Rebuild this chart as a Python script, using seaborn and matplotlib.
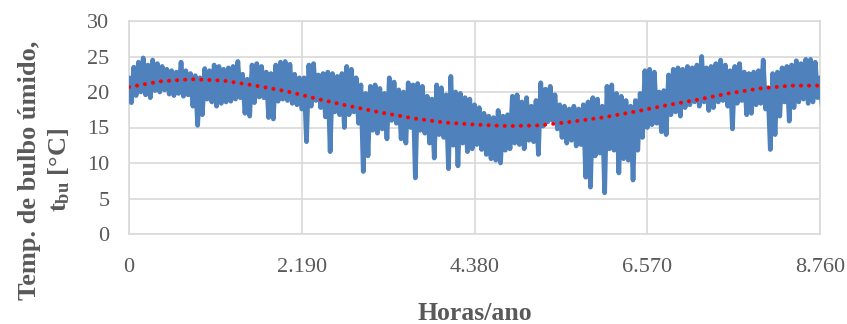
import numpy as np
import pandas as pd
import matplotlib
matplotlib.use("Agg")
import matplotlib.pyplot as plt
import seaborn as sns

# ---- data ----
# hourly record shown as an envelope: max / min wet-bulb temperature per 60 h block
horas = list(range(0, 8761, 60))
tbu_max = [22.0, 23.5, 24.2, 24.8, 23.8, 24.5, 24.0, 23.6, 23.2, 23.0,
           22.8, 24.2, 23.0, 22.6, 22.3, 22.0, 23.3, 23.0, 23.8, 23.6,
           23.2, 23.4, 23.6, 24.3, 22.5, 21.8, 23.8, 24.0, 23.6, 22.8,
           22.6, 23.8, 24.2, 24.3, 23.9, 22.5, 22.0, 22.0, 23.8, 24.0,
           22.4, 22.6, 22.8, 22.6, 22.2, 22.6, 23.6, 23.2, 22.0, 21.0,
           19.8, 20.8, 21.0, 20.5, 19.8, 22.0, 21.4, 20.3, 20.0, 21.3,
           21.0, 21.2, 20.8, 19.4, 19.0, 21.0, 20.6, 19.6, 22.2, 20.0,
           19.8, 19.2, 19.0, 18.2, 17.8, 17.0, 16.6, 16.4, 17.4, 16.6,
           16.8, 19.4, 19.6, 18.6, 19.2, 18.0, 18.8, 21.3, 20.4, 20.8,
           19.6, 18.2, 18.0, 17.6, 18.0, 17.6, 18.2, 18.6, 19.2, 19.0,
           18.0, 20.8, 21.0, 19.8, 19.4, 18.8, 18.0, 18.8, 19.8, 23.0,
           23.2, 22.8, 20.0, 20.2, 22.4, 23.2, 23.4, 23.2, 23.6, 23.4,
           23.8, 25.0, 23.4, 23.6, 24.0, 24.5, 23.8, 23.0, 23.6, 24.0,
           22.8, 22.6, 22.8, 23.0, 24.5, 20.6, 22.6, 22.8, 23.4, 23.6,
           23.8, 24.4, 24.0, 24.6, 24.6, 24.2, 22.0]
tbu_min = [18.5, 19.5, 20.0, 19.6, 19.2, 20.2, 20.0, 20.3, 19.7, 19.5,
           19.8, 19.4, 19.6, 18.0, 15.3, 16.8, 19.0, 18.6, 18.0, 18.4,
           18.6, 18.7, 19.0, 19.2, 17.0, 16.6, 18.5, 19.3, 19.2, 16.4,
           16.2, 18.7, 19.0, 18.8, 18.4, 18.2, 17.6, 13.0, 18.0, 18.8,
           17.8, 16.5, 11.6, 17.2, 16.8, 15.0, 16.8, 17.2, 15.6, 8.8,
           11.0, 14.6, 14.2, 14.8, 13.4, 16.0, 15.6, 13.4, 12.8, 15.0,
           7.9, 14.6, 14.2, 12.8, 10.7, 14.0, 13.6, 9.2, 12.5, 9.6,
           12.8, 11.6, 12.0, 12.6, 11.9, 11.2, 10.6, 10.4, 10.0, 11.8,
           12.0, 12.8, 12.6, 12.0, 13.2, 13.0, 11.2, 15.2, 15.8, 16.0,
           14.8, 13.6, 12.8, 13.2, 12.4, 12.6, 8.0, 6.6, 11.0, 11.4,
           5.8, 12.0, 11.8, 8.6, 10.6, 10.4, 7.6, 11.8, 13.6, 15.0,
           15.4, 15.6, 14.4, 14.0, 16.8, 17.2, 16.6, 17.8, 18.2, 18.6,
           18.0, 18.6, 17.4, 17.8, 18.6, 18.8, 18.0, 14.8, 18.4, 18.8,
           16.8, 17.0, 18.2, 18.4, 17.6, 11.9, 14.0, 16.6, 18.6, 15.9,
           17.8, 18.6, 19.0, 18.4, 18.6, 19.2, 17.8]

# trend line (red dotted)
horas_tend = [0, 400, 800, 1200, 1600, 2000, 2400, 2800, 3200, 3600, 4000, 4400,
              4800, 5200, 5600, 6000, 6400, 6800, 7200, 7600, 8000, 8400, 8760]
tbu_tend = [20.7, 21.5, 21.8, 21.6, 20.9, 20.1, 19.0, 18.0, 17.1, 16.3, 15.7, 15.4,
            15.2, 15.3, 15.8, 16.4, 17.2, 18.1, 18.9, 19.8, 20.5, 20.9, 20.9]

x_ticks = [0, 2190, 4380, 6570, 8760]
x_labels = ["0", "2.190", "4.380", "6.570", "8.760"]
y_ticks = [0, 5, 10, 15, 20, 25, 30]

# ---- build tables ----
xs, ys = [], []
for h, hi, lo in zip(horas, tbu_max, tbu_min):
    xs += [h, h + 30]
    ys += [hi, lo]
df = pd.DataFrame({"hora": xs, "tbu": ys})
df_t = pd.DataFrame({"hora": horas_tend, "tbu": tbu_tend})

# ---- style ----
sns.set_theme(style="white")
plt.rcParams["font.family"] = ["Liberation Serif", "DejaVu Serif"]
plt.rcParams["mathtext.fontset"] = "custom"
plt.rcParams["mathtext.rm"] = "Liberation Serif"
plt.rcParams["mathtext.bf"] = "Liberation Serif:bold"
plt.rcParams["mathtext.it"] = "Liberation Serif:italic"

fig = plt.figure(figsize=(8.47, 3.24), dpi=100)
ax = fig.add_axes([129 / 847, 1 - 234 / 324, (820 - 129) / 847, (234 - 21) / 324])

grid_c = "#D9D9D9"
text_c = "#595959"

sns.lineplot(data=df, x="hora", y="tbu", ax=ax, sort=False, estimator=None,
             color="#4F81BD", linewidth=3.4, zorder=3)
ax.lines[-1].set_solid_joinstyle("round")
sns.lineplot(data=df_t, x="hora", y="tbu", ax=ax, sort=False, estimator=None,
             color="#FF0000", linewidth=2.9, zorder=4)
ax.lines[-1].set_linestyle((0, (0.01, 2.0)))
ax.lines[-1].set_dash_capstyle("round")

ax.set_xlim(0, 8760)
ax.set_ylim(0, 30)
ax.set_xticks(x_ticks)
ax.set_xticklabels(x_labels)
ax.set_yticks(y_ticks)
ax.grid(True, color=grid_c, linewidth=1.2)
ax.set_axisbelow(True)
for s in ax.spines.values():
    s.set_color(grid_c)
    s.set_linewidth(1.2)
ax.tick_params(axis="both", length=0, labelsize=16, labelcolor=text_c)
ax.tick_params(axis="x", pad=17)
ax.tick_params(axis="y", pad=14)

ax.set_xlabel("Horas/ano", fontsize=18.5, fontweight="bold", color=text_c)
ax.xaxis.set_label_coords(0.5, -0.32)
ax.set_ylabel("Temp. de bulbo úmido,\n" + r"$\mathbf{t_{bu}}$ [°C]",
              fontsize=19, fontweight="bold", color=text_c, linespacing=1.3)
ax.yaxis.set_label_coords(-0.082, 0.30)

fig.savefig("out.png", dpi=100)
